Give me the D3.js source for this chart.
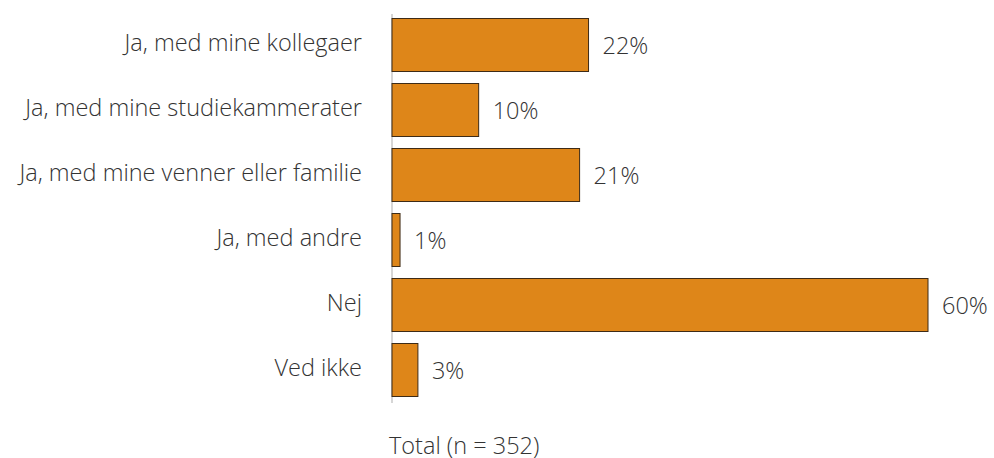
<!DOCTYPE html>
<html>
<head>
<meta charset="utf-8">
<script src="https://cdn.jsdelivr.net/npm/d3@7"></script>
<style>
  body { margin: 0; background: #fff; }
  svg text { font-family: "Open Sans", sans-serif; font-weight: 300; fill: #333; font-size: 23.5px; }
</style>
</head>
<body>
<svg width="994" height="458"></svg>
<script>
// svar
var kategorier = ["Ja, med mine kollegaer", "Ja, med mine studiekammerater", "Ja, med mine venner eller familie",
                  "Ja, med andre", "Nej", "Ved ikke"];
var andele = [22, 9.7, 21, 0.9, 60, 2.9];
var totalTekst = "Total (n = 352)";

var svg = d3.select("svg"),
    venstre = 392,
    topY = 12.5,
    bundY = 402.5;

var x = d3.scaleLinear().domain([0, 60]).range([venstre, 928]);
var y = d3.scaleBand().domain(kategorier).range([topY, bundY])
    .paddingInner(11 / 65).paddingOuter(5.5 / 65);

var fmt = function(v) { return d3.format(".0f")(v) + "%"; };

// akse linje
svg.append("line")
    .attr("x1", venstre).attr("x2", venstre)
    .attr("y1", 14).attr("y2", 403)
    .attr("stroke", "#bbb")
    .attr("stroke-width", 1.2);

svg.append("g")
  .selectAll("rect")
  .data(andele)
  .enter().append("rect")
    .attr("x", venstre)
    .attr("y", function(d, i) { return y(kategorier[i]) + 0.5; })
    .attr("width", function(d) { return x(d) - venstre; })
    .attr("height", y.bandwidth() - 1)
    .attr("fill", "#DE8619")
    .attr("stroke", "#3d2b17")
    .attr("stroke-width", 1);

svg.append("g")
  .selectAll("text")
  .data(andele)
  .enter().append("text")
    .attr("x", function(d) { return x(d) + 14; })
    .attr("y", function(d, i) { return y(kategorier[i]) + y.bandwidth() / 2 + 1; })
    .attr("dy", "0.35em")
    .text(fmt);

svg.append("g")
  .selectAll("text")
  .data(kategorier)
  .enter().append("text")
    .attr("x", 362)
    .attr("y", function(d) { return y(d) + y.bandwidth() / 2 - 2; })
    .attr("dy", "0.35em")
    .attr("text-anchor", "end")
    .text(function(d) { return d; });

svg.append("text")
    .attr("x", 389)
    .attr("y", 446)
    .attr("dy", "0.35em")
    .text(totalTekst);
</script>
</body>
</html>
